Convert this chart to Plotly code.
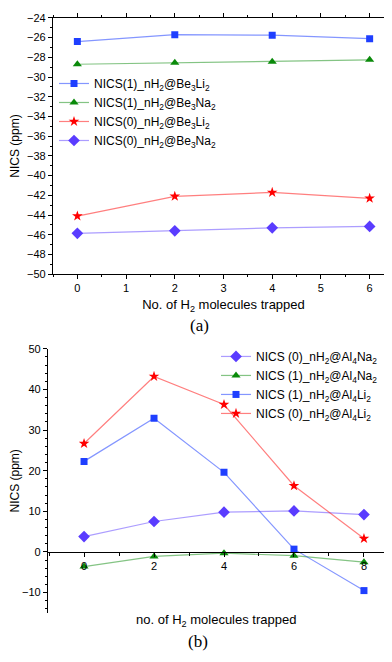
import plotly.graph_objects as go

# ---- data: panel (a) ----
x_a = [0, 2, 4, 6]
nics1_be3li2 = [-26.4, -25.7, -25.75, -26.1]
nics1_be3na2 = [-28.7, -28.55, -28.45, -28.25]
nics0_be3li2 = [-44.1, -42.1, -41.7, -42.3]
nics0_be3na2 = [-45.85, -45.6, -45.3, -45.15]

# ---- data: panel (b) ----
x_b = [0, 2, 4, 6, 8]
nics0_al4na2 = [3.8, 7.5, 9.8, 10.1, 9.2]
nics1_al4na2 = [-3.6, -1.1, -0.3, -0.9, -2.5]
nics1_al4li2 = [22.3, 32.9, 19.6, 0.7, -9.5]
nics0_al4li2 = [26.7, 43.2, 36.3, 16.3, 3.3]

x_ticks_a = [0, 1, 2, 3, 4, 5, 6]
y_ticks_a = list(range(-50, -23, 2))
x_ticks_b = [0, 2, 4, 6, 8]
y_ticks_b = [-10, 0, 10, 20, 30, 40, 50]

BLUE = "#1f3fff"
GREEN = "#0a8a0a"
RED = "#ff0000"
PURPLE = "#5a3cff"
LINE = {BLUE: "rgba(31,63,255,0.55)", GREEN: "rgba(10,138,10,0.5)",
        RED: "rgba(255,0,0,0.5)", PURPLE: "rgba(90,60,255,0.5)"}
FONT = "Liberation Sans, Arial, sans-serif"

fig = go.Figure()

def add(x, y, name, color, symbol, size, xa, ya, legend):
    fig.add_trace(go.Scatter(
        x=x, y=y, name=name, mode="lines+markers",
        line=dict(color=LINE[color], width=1.2),
        marker=dict(symbol=symbol, size=size, color=color),
        xaxis=xa, yaxis=ya, legend=legend))

add(x_a, nics1_be3li2, "NICS(1)_nH<sub>2</sub>@Be<sub>3</sub>Li<sub>2</sub>", BLUE, "square", 7, "x", "y", "legend")
add(x_a, nics1_be3na2, "NICS(1)_nH<sub>2</sub>@Be<sub>3</sub>Na<sub>2</sub>", GREEN, "triangle-up", 8, "x", "y", "legend")
add(x_a, nics0_be3li2, "NICS(0)_nH<sub>2</sub>@Be<sub>3</sub>Li<sub>2</sub>", RED, "star", 8, "x", "y", "legend")
add(x_a, nics0_be3na2, "NICS(0)_nH<sub>2</sub>@Be<sub>3</sub>Na<sub>2</sub>", PURPLE, "diamond", 9, "x", "y", "legend")

add(x_b, nics0_al4na2, "NICS (0)_nH<sub>2</sub>@Al<sub>4</sub>Na<sub>2</sub>", PURPLE, "diamond", 9, "x2", "y2", "legend2")
add(x_b, nics1_al4na2, "NICS (1)_nH<sub>2</sub>@Al<sub>4</sub>Na<sub>2</sub>", GREEN, "triangle-up", 8, "x2", "y2", "legend2")
add(x_b, nics1_al4li2, "NICS (1)_nH<sub>2</sub>@Al<sub>4</sub>Li<sub>2</sub>", BLUE, "square", 7, "x2", "y2", "legend2")
add(x_b, nics0_al4li2, "NICS (0)_nH<sub>2</sub>@Al<sub>4</sub>Li<sub>2</sub>", RED, "star", 8, "x2", "y2", "legend2")

W, H = 392, 662
def px_x(p): return p / W
def px_y(p): return 1 - p / H

ya_dom = [px_y(265), px_y(4)]
yb_dom = [px_y(610), px_y(341)]
yb_range = [-15, 50]
zero_pos = yb_dom[0] + (0 - yb_range[0]) / (yb_range[1] - yb_range[0]) * (yb_dom[1] - yb_dom[0])

axis_common = dict(showgrid=False, zeroline=False, linecolor="black", linewidth=1.2,
                   ticks="outside", ticklen=4, tickwidth=1, tickcolor="black",
                   tickfont=dict(family=FONT, size=11, color="black"))

fig.update_layout(
    width=W, height=H,
    margin=dict(l=0, r=0, t=0, b=0),
    paper_bgcolor="white", plot_bgcolor="white",
    font=dict(family=FONT, color="black"),
    xaxis=dict(domain=[px_x(45), px_x(386)], range=[-0.5, 6.5], anchor="y",
               tickvals=x_ticks_a, mirror="allticks", showline=True,
               minor=dict(ticks="outside", ticklen=2, dtick=0.5, tick0=0, tickcolor="black"),
               title=dict(text="No. of H<sub>2</sub> molecules trapped", font=dict(size=13), standoff=6),
               **axis_common),
    yaxis=dict(domain=ya_dom, range=[-50, -24], anchor="x",
               tickvals=y_ticks_a, mirror="allticks", showline=True,
               minor=dict(ticks="outside", ticklen=2, dtick=1, tick0=0, tickcolor="black"),
               title=dict(text="NICS (ppm)", font=dict(size=12), standoff=4),
               **axis_common),
    xaxis2=dict(domain=[px_x(40), 1.0], range=[-1.03, 9.03], anchor="free", position=zero_pos,
                tickvals=x_ticks_b, showline=True,
                minor=dict(ticks="outside", ticklen=3, dtick=1, tick0=0, tickcolor="black"),
                **axis_common),
    yaxis2=dict(domain=yb_dom, range=yb_range, anchor="x2",
                tickvals=y_ticks_b, showline=True,
                minor=dict(ticks="outside", ticklen=2, dtick=2, tick0=0, tickcolor="black"),
                title=dict(text="NICS (ppm)", font=dict(size=12), standoff=4),
                **axis_common),
    legend=dict(x=px_x(46), y=px_y(56), xanchor="left", yanchor="top",
                bgcolor="rgba(0,0,0,0)", font=dict(family=FONT, size=12),
                tracegroupgap=0, itemwidth=30, itemsizing="trace"),
    legend2=dict(x=px_x(208), y=px_y(334), xanchor="left", yanchor="top",
                 bgcolor="rgba(0,0,0,0)", font=dict(family=FONT, size=12),
                 tracegroupgap=0, itemwidth=30, itemsizing="trace"),
    showlegend=True,
)

fig.add_annotation(text="(a)", x=px_x(191), y=px_y(317), xref="paper", yref="paper",
                   showarrow=False, font=dict(family="Liberation Serif, Times New Roman, serif", size=17))
fig.add_annotation(text="no. of H<sub>2</sub> molecules trapped", x=px_x(208), y=px_y(628),
                   xref="paper", yref="paper", showarrow=False, font=dict(family=FONT, size=13))
fig.add_annotation(text="(b)", x=px_x(190), y=px_y(651), xref="paper", yref="paper",
                   showarrow=False, font=dict(family="Liberation Serif, Times New Roman, serif", size=17))

fig.write_html("out.html")
